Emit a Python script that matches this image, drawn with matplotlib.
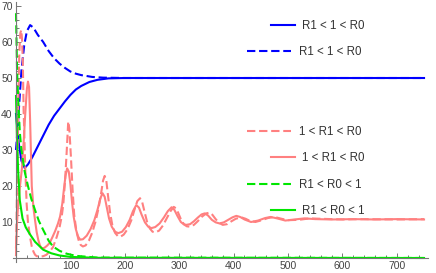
import matplotlib
matplotlib.use('Agg')
import matplotlib.pyplot as plt
from matplotlib.lines import Line2D

plt.rcParams['font.family'] = ['Liberation Sans', 'DejaVu Sans']

# ---- data ----
# blue: R1 < 1 < R0
blue_solid_t = [0, 5, 10, 16, 22, 30, 40, 50, 60, 70, 80, 90, 100, 110, 120, 135, 150, 170, 200, 750]
blue_solid_y = [40, 32, 27, 25, 26, 28, 31, 34, 37, 39.5, 41.5, 43.5, 45.3, 46.8, 47.8, 48.9, 49.5, 49.9, 50, 50]

blue_dash_t = [0, 3, 6, 10, 15, 20, 26, 32, 40, 50, 60, 70, 80, 90, 100, 110, 120, 140, 160, 200, 750]
blue_dash_y = [30, 36, 43, 52, 59, 63, 64.7, 64, 62, 60, 57.5, 55.5, 54, 52.8, 51.8, 51.2, 50.8, 50.3, 50.1, 50, 50]

# pink: 1 < R1 < R0
pink_solid_t = [0, 2, 4, 7, 11, 14, 17, 20, 22, 24, 26, 29, 32, 35, 38, 41, 44, 47, 52, 57, 62, 67, 72,
                77, 81, 85, 88, 91, 94, 97, 100, 103, 106, 110, 114, 118, 123, 130, 137, 144, 150, 155,
                159, 163, 167, 171, 176, 182, 188, 195, 202, 209, 215, 221, 226, 231, 237, 243, 249, 256,
                264, 272, 279, 286, 291, 297, 303, 308, 313, 320, 327, 334, 341, 347, 353, 360, 367, 374,
                382, 390, 398, 405, 412, 420, 432, 445, 458, 468, 480, 495, 512, 530, 550, 580, 620, 660,
                700, 750]
pink_solid_y = [3, 10, 15, 19.5, 25, 32, 40, 47, 49, 47.5, 38, 20, 14, 10.5, 7.2, 5, 3.5, 2.7, 2.8, 3.4,
                4.2, 5.8, 7.5, 9.5, 11.5, 15, 19, 22.8, 24.9, 24, 20.5, 15.5, 11.5, 8, 6, 5.1, 5.2, 6.2, 8,
                10.5, 13.5, 16.5, 18, 17, 14, 11, 8.7, 7.3, 6.9, 7.3, 8.6, 10.6, 13, 14.7, 14, 12, 9.9,
                8.7, 8.3, 8.6, 9.6, 11.3, 13, 14.1, 13.4, 11.6, 10, 9.4, 9.2, 9.4, 10.2, 11.2, 12.1, 12.4,
                11.8, 10.6, 9.9, 9.6, 9.9, 10.6, 11.3, 11.7, 11.4, 10.7, 10.0, 10.4, 11.1, 11.4, 11.0,
                10.4, 10.7, 11.0, 10.8, 10.7, 10.8, 10.7, 10.8, 10.7]

pink_dash_t = [0, 1, 2, 3, 4, 5, 6, 7, 8, 9.7, 11, 12.5, 14, 15.5, 17, 19.6, 22, 25.7, 29, 32, 35, 38, 45,
               50, 56, 62, 68, 75, 80, 84, 87, 90, 93, 96, 98, 101, 104, 107, 111, 115, 119, 123, 128, 134,
               140, 146, 152, 157, 160, 163, 166, 169, 173, 177, 182, 187, 192, 198, 205, 212, 218, 223,
               228, 232, 236, 241, 246, 251, 256, 263, 270, 277, 284, 290, 294, 298, 303, 309, 314, 320,
               327, 334, 342, 350, 356, 361, 367, 373, 380, 388, 396, 404, 414, 422, 430, 440, 452, 463,
               475, 488, 500, 520, 540, 560, 600, 640, 700, 750]
pink_dash_y = [0.5, 10, 22, 30, 40, 50, 56, 60, 62.5, 63.3, 61, 55, 41, 33, 25, 15, 10, 5.9, 3.2, 1.8, 0.9,
               0.5, 0.4, 0.5, 0.9, 1.8, 3, 5.9, 8.5, 11.5, 15, 21, 29, 37.9, 36, 28, 19, 12, 7.5, 5, 3.6,
               3.2, 3.5, 4.8, 7, 10, 14, 18.5, 21.5, 22.8, 21.5, 17.5, 12.5, 9.2, 7, 6.1, 5.9, 6.5, 8,
               10.5, 13.5, 15.8, 16.6, 15.5, 13, 10, 8.2, 7.3, 7.1, 7.6, 9, 11, 13, 14.2, 13.8, 12.6,
               10.8, 9.3, 8.8, 8.7, 9.2, 10.2, 11.5, 12.4, 12.6, 12, 10.8, 9.8, 9.2, 9.4, 10.2, 10.9,
               11.3, 10.9, 10.3, 10.0, 10.5, 11.1, 11.4, 10.9, 10.5, 10.6, 11.0, 10.9, 10.7, 10.8, 10.7,
               10.8]

# green: R1 < R0 < 1
green_solid_t = [0, 2, 4, 7, 12, 18, 26, 35, 50, 65, 80, 100, 150, 750]
green_solid_y = [45, 32, 24, 16, 11, 8.5, 6.5, 4.5, 2.3, 1.3, 0.7, 0.3, 0.05, 0]

green_dash_t = [0, 2, 4, 7, 10, 16, 22, 28, 35, 42, 50, 60, 68, 80, 93, 110, 150, 750]
green_dash_y = [68, 52, 44, 35, 30, 24, 20, 16.5, 13.3, 10.3, 7.8, 4.8, 3.2, 2, 1.2, 0.6, 0.1, 0]

labels = ['R1 < 1 < R0', '1 < R1 < R0', 'R1 < R0 < 1']
x_ticks = [100, 200, 300, 400, 500, 600, 700]
y_ticks = [10, 20, 30, 40, 50, 60, 70]

BLUE = '#0000ff'
PINK = '#ff8080'
GREEN = '#00e600'
DASH = (0, (4, 1.8))
LW = 1.5

fig = plt.figure(figsize=(4.36, 2.73), dpi=100)
ax = fig.add_axes([0, 0, 1, 1])
ax.set_xlim(-29.4, 772)
ax.set_ylim(-4.17, 71.67)

ax.plot(blue_solid_t, blue_solid_y, color=BLUE, lw=LW)
ax.plot(blue_dash_t, blue_dash_y, color=BLUE, lw=LW, ls=DASH)
ax.plot(pink_dash_t, pink_dash_y, color=PINK, lw=LW, ls=DASH)
ax.plot(pink_solid_t, pink_solid_y, color=PINK, lw=LW)
ax.plot(green_solid_t, green_solid_y, color=GREEN, lw=LW)
ax.plot(green_dash_t, green_dash_y, color=GREEN, lw=LW, ls=DASH)

# Mathematica-style axes crossing at the origin
for side in ['top', 'right']:
    ax.spines[side].set_visible(False)
ax.spines['left'].set_position(('data', 0))
ax.spines['bottom'].set_position(('data', 0))
ax.spines['left'].set_bounds(-1, 71.2)
ax.spines['bottom'].set_bounds(-6, 757)
for side in ['left', 'bottom']:
    ax.spines[side].set_color('#777777')
    ax.spines[side].set_linewidth(0.8)

ax.set_xticks(x_ticks)
ax.set_yticks(y_ticks)
ax.set_xticks([v for v in range(20, 760, 20) if v % 100], minor=True)
ax.set_yticks([v for v in range(2, 71, 2) if v % 10], minor=True)
ax.tick_params(which='both', direction='in', color='#777777', width=0.7)
ax.tick_params(which='major', length=3.5, labelsize=7.5, labelcolor='#444444')
ax.tick_params(which='minor', length=2)
ax.tick_params(axis='x', pad=2.5)
ax.tick_params(axis='y', pad=2.4)

# legend entries placed individually, as in the reference
entries = [
    (BLUE, '-', labels[0], 271, 26),
    (BLUE, DASH, labels[0], 247, 52.3),
    (PINK, DASH, labels[1], 247, 132.3),
    (PINK, '-', labels[1], 271, 158.3),
    (GREEN, DASH, labels[2], 247, 185),
    (GREEN, '-', labels[2], 271, 211),
]
W, H = 436.0, 273.0
for color, ls, text, x0, y0 in entries:
    dashed = ls != '-'
    h = Line2D([], [], color=color, lw=LW, ls=ls)
    leg = fig.legend(handles=[h], labels=[text], loc='center left',
                     bbox_to_anchor=(x0 / W, 1 - y0 / H), frameon=False,
                     borderpad=0, borderaxespad=0, fontsize=8.3,
                     handlelength=3.8 if dashed else 2.05,
                     handletextpad=0.75 if dashed else 0.6)
    for t in leg.get_texts():
        t.set_color('#333333')

fig.savefig('out.png', dpi=100, facecolor='white')
